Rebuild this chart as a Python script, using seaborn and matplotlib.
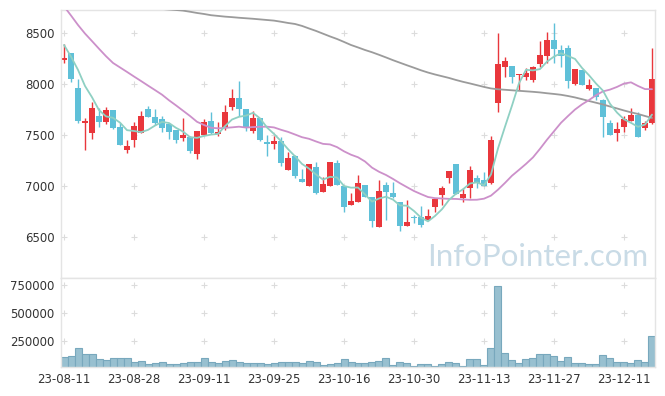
import numpy as np
import pandas as pd
import matplotlib
matplotlib.use("Agg")
import matplotlib.pyplot as plt
import matplotlib.ticker as mticker
import seaborn as sns

# trading days (KRX holidays removed)
holidays = ["2023-08-15", "2023-09-28", "2023-09-29", "2023-10-02", "2023-10-03", "2023-10-09"]
days = pd.bdate_range("2023-08-11", "2023-12-15")
days = days[~days.isin(pd.to_datetime(holidays))]

opens = [8230, 8301, 7958, 7620, 7523, 7686, 7627, 7745, 7578, 7356,
         7454, 7523, 7758, 7676, 7657, 7608, 7549, 7474, 7477, 7317,
         7503, 7637, 7510, 7569, 7778, 7863, 7755, 7542, 7667, 7431,
         7415, 7444, 7160, 7294, 7069, 7003, 7186, 6944, 7003, 7222,
         7003, 6811, 6846, 7010, 6895, 6601, 7007, 6928, 6843, 6611,
         6696, 6693, 6667, 6797, 6909, 7082, 7216, 6882, 6977, 7075,
         7059, 7032, 7811, 8170, 8176, 8085, 8072, 8039, 8193, 8278,
         8431, 8333, 8353, 8003, 8137, 7951, 7958, 7843, 7618, 7523,
         7582, 7640, 7693, 7572, 7614]
highs = [8390, 8301, 8046, 7664, 7827, 7762, 7778, 7745, 7617, 7451,
         7627, 7732, 7784, 7755, 7686, 7618, 7549, 7664, 7490, 7540,
         7654, 7723, 7630, 7791, 7948, 8030, 7755, 7735, 7667, 7497,
         7490, 7478, 7337, 7300, 7164, 7216, 7238, 7091, 7235, 7255,
         7003, 6929, 7111, 7010, 6895, 7056, 7042, 7040, 6843, 6863,
         6716, 6807, 6772, 6873, 7003, 7144, 7216, 6977, 7196, 7108,
         7140, 7490, 8503, 8262, 8180, 8098, 8154, 8180, 8425, 8513,
         8595, 8382, 8382, 8150, 8140, 8052, 7960, 7850, 7647, 7630,
         7690, 7768, 7723, 7640, 8350]
lows = [8205, 8020, 7620, 7353, 7457, 7581, 7608, 7560, 7402, 7327,
        7379, 7523, 7680, 7600, 7526, 7458, 7425, 7441, 7327, 7262,
        7500, 7510, 7490, 7552, 7745, 7686, 7536, 7523, 7445, 7294,
        7360, 7199, 7160, 7082, 7040, 7000, 6924, 6944, 7003, 7010,
        6748, 6811, 6846, 6890, 6595, 6601, 6667, 6880, 6562, 6611,
        6640, 6600, 6667, 6748, 6814, 7026, 6922, 6846, 6886, 6977,
        6997, 7020, 7723, 8066, 8007, 7941, 8039, 8017, 8170, 8203,
        8203, 8164, 7958, 7987, 7985, 7945, 7843, 7477, 7500, 7441,
        7532, 7640, 7480, 7549, 7610]
closes = [8258, 8052, 7640, 7637, 7762, 7627, 7745, 7569, 7402, 7392,
          7588, 7686, 7680, 7615, 7572, 7532, 7451, 7497, 7343, 7536,
          7625, 7517, 7530, 7723, 7863, 7758, 7575, 7667, 7451, 7415,
          7444, 7222, 7275, 7098, 7042, 7216, 6934, 7023, 7235, 7010,
          6797, 6853, 7030, 6895, 6657, 6951, 6941, 6889, 6608, 6647,
          6690, 6615, 6706, 6873, 6977, 7144, 6922, 6922, 7157, 7032,
          7003, 7451, 8196, 8223, 8066, 8098, 8111, 8167, 8287, 8431,
          8346, 8275, 8032, 8144, 7990, 7987, 7870, 7680, 7503, 7559,
          7657, 7696, 7484, 7614, 8046]
volumes = [104, 116, 185, 131, 131, 87, 78, 95, 95, 95,
           63, 71, 42, 51, 60, 42, 42, 51, 60, 60,
           95, 60, 51, 69, 78, 60, 51, 51, 51, 42,
           51, 60, 60, 60, 51, 69, 60, 33, 42, 51,
           87, 60, 51, 51, 60, 69, 95, 33, 60, 51,
           24, 42, 42, 24, 42, 60, 51, 24, 87, 87,
           33, 185, 741, 140, 78, 51, 87, 95, 131, 131,
           113, 69, 104, 51, 51, 42, 42, 122, 95, 60,
           60, 51, 78, 60, 292]
volumes = [v * 1000 for v in volumes]

# moving-average values before enough closes are on screen
ma5_head = [8382, 8268, 8138, 7980]
ma20_head = [8761, 8671, 8578, 8494, 8420, 8345, 8272, 8206, 8162, 8118,
             8073, 8029, 7984, 7940, 7895, 7840, 7790, 7738, 7686]
ma120 = [8902, 8887, 8873, 8858, 8843, 8828, 8814, 8799, 8784, 8774,
         8765, 8755, 8745, 8740, 8735, 8730, 8725, 8719, 8708, 8696,
         8686, 8674, 8667, 8660, 8655, 8649, 8644, 8639, 8633, 8627,
         8621, 8610, 8598, 8588, 8569, 8544, 8520, 8493, 8466, 8441,
         8412, 8382, 8358, 8333, 8311, 8286, 8260, 8233, 8208, 8183,
         8159, 8134, 8112, 8093, 8076, 8059, 8039, 8021, 8005, 7988,
         7971, 7956, 7948, 7943, 7938, 7933, 7928, 7923, 7917, 7909,
         7902, 7894, 7882, 7868, 7851, 7833, 7816, 7799, 7779, 7760,
         7740, 7722, 7706, 7686, 7667]

df = pd.DataFrame({"date": days, "open": opens, "high": highs, "low": lows,
                   "close": closes, "volume": volumes, "ma120": ma120})
df["idx"] = np.arange(len(df))
df["ma5"] = df["close"].rolling(5).mean()
df.loc[:3, "ma5"] = ma5_head
df["ma20"] = df["close"].rolling(20).mean()
df.loc[:18, "ma20"] = ma20_head

sns.set_theme(style="white")
plt.rcParams["font.family"] = ["DejaVu Sans"]

UP, DOWN = "#e9373c", "#5fc0d8"
EDGE = "#e4e4e4"
TXT = "#333333"

fig = plt.figure(figsize=(6.65, 3.96), dpi=100)
ax = fig.add_axes([61 / 665, 118 / 396, 594 / 665, 268 / 396])
axv = fig.add_axes([61 / 665, 29 / 396, 594 / 665, 89 / 396])

# candles
up = df["close"] >= df["open"]
cols = np.where(up, UP, DOWN)
body_lo = df[["open", "close"]].min(axis=1)
body_h = (df["close"] - df["open"]).abs().clip(lower=10)
ax.vlines(df["idx"], df["low"], df["high"], colors=cols, lw=1, zorder=2)
ax.bar(df["idx"], body_h, bottom=body_lo, width=0.72, color=cols, lw=0, zorder=2)

# moving averages
sns.lineplot(data=df, x="idx", y="ma120", ax=ax, color="#9b9b9b", lw=1.3, zorder=3)
sns.lineplot(data=df, x="idx", y="ma20", ax=ax, color="#cc90ca", lw=1.3, zorder=3)
sns.lineplot(data=df, x="idx", y="ma5", ax=ax, color="#8fd0c3", lw=1.3, zorder=3)

price_ticks = [6500, 7000, 7500, 8000, 8500]
xt = df["idx"][::10].to_numpy()
ax.set_xlim(-0.43, 84.43)
ax.set_ylim(6098, 8725)
ax.set_yticks(price_ticks)
ax.set_xticks([])
gx, gy = np.meshgrid(xt, price_ticks)
ax.scatter(gx.ravel(), gy.ravel(), marker="+", s=18, color="#dcdcdc", lw=0.8, zorder=1)
ax.text(0.988, 0.045, "InfoPointer.com", transform=ax.transAxes, ha="right",
        va="baseline", fontsize=22.5, color="#c9dbe6", family=["Lato", "DejaVu Sans"])
ax.set_xlabel("")
ax.set_ylabel("")

# volume
sns.barplot(x=df["idx"], y=df["volume"], ax=axv, color="#98c0d0", saturation=1,
            width=1.0, edgecolor="#78a8bd", linewidth=0.8)
vol_ticks = [250000, 500000, 750000]
axv.set_xlim(-0.43, 84.43)
axv.set_ylim(18000, 812000)
axv.set_yticks(vol_ticks)
axv.yaxis.set_major_formatter(mticker.StrMethodFormatter("{x:.0f}"))
axv.set_xticks(xt)
axv.set_xticklabels(df["date"][::10].dt.strftime("%y-%m-%d"))
gx, gy = np.meshgrid(xt, vol_ticks)
axv.scatter(gx.ravel(), gy.ravel(), marker="+", s=18, color="#dcdcdc", lw=0.8, zorder=0)
axv.set_xlabel("")
axv.set_ylabel("")

for a in (ax, axv):
    for s in a.spines.values():
        s.set_color(EDGE)
        s.set_linewidth(1)
    a.tick_params(length=0, labelsize=8.5, colors=TXT)
    a.tick_params(axis="y", pad=4.5)
    a.tick_params(axis="x", pad=4)

plt.savefig("out.png", dpi=100)
